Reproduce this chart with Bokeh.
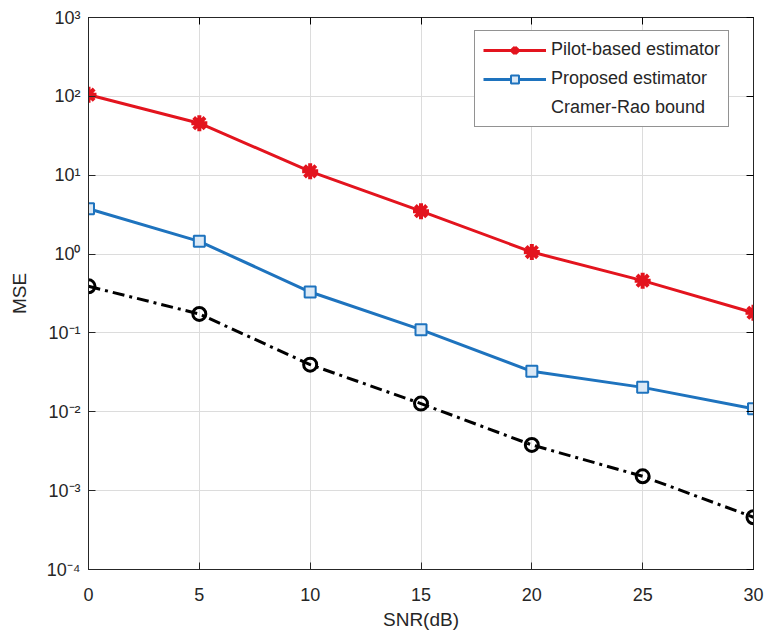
from bokeh.plotting import figure
from bokeh.models import (Range1d, FixedTicker, CustomJSTickFormatter, LinearAxis, LogAxis,
                          Legend, LegendItem)
from bokeh.embed import file_html
from bokeh.resources import INLINE

snr = [0, 5, 10, 15, 20, 25, 30]
pilot = [105, 45.7, 11.2, 3.5, 1.06, 0.46, 0.18]
proposed = [3.76, 1.45, 0.33, 0.11, 0.0326, 0.0204, 0.0109]
crb = [0.39, 0.174, 0.0396, 0.0127, 0.0038, 0.00152, 0.00046]
x_ticks = [0, 5, 10, 15, 20, 25, 30]
y_ticks = [1e-4, 1e-3, 1e-2, 1e-1, 1e0, 1e1, 1e2, 1e3]

FONT = "Liberation Sans"
RED = "#E3141E"
BLUE = "#1E73BE"

p = figure(width=764, height=640, y_axis_type="log", output_backend="svg",
           toolbar_location=None, x_range=Range1d(0, 30), y_range=Range1d(1e-4, 1e3),
           min_border_left=88, min_border_right=11, min_border_top=17, min_border_bottom=71)
p.background_fill_color = "white"
p.border_fill_color = "white"
p.outline_line_color = "#262626"
p.outline_line_width = 1

sup_js = """
const sup = {'-':'\u207b','0':'\u2070','1':'\u00b9','2':'\u00b2','3':'\u00b3','4':'\u2074',
             '5':'\u2075','6':'\u2076','7':'\u2077','8':'\u2078','9':'\u2079'};
const e = Math.round(Math.log10(tick));
return '10' + String(e).split('').map(c => sup[c]).join('');
"""

xa = p.xaxis[0]
xa.ticker = FixedTicker(ticks=x_ticks)
ya = p.yaxis[0]
ya.ticker = FixedTicker(ticks=y_ticks)
ya.formatter = CustomJSTickFormatter(code=sup_js)

for ax in (xa, ya):
    ax.axis_line_color = "#262626"
    ax.major_tick_in = 7
    ax.major_tick_out = 0
    ax.minor_tick_in = 0
    ax.minor_tick_out = 0
    ax.major_tick_line_color = "#262626"
    ax.major_label_text_font = FONT
    ax.major_label_text_font_size = "18px"
    ax.major_label_text_color = "#262626"
    ax.axis_label_text_font = FONT
    ax.axis_label_text_font_size = "19px"
    ax.axis_label_text_font_style = "normal"
    ax.axis_label_text_color = "#262626"
xa.axis_label = "SNR(dB)"
ya.axis_label = "MSE"
xa.major_label_standoff = 18
xa.axis_label_standoff = 5
ya.major_label_standoff = 8
ya.axis_label_standoff = 14

empty = CustomJSTickFormatter(code="return '';")
top = LinearAxis(ticker=FixedTicker(ticks=x_ticks), formatter=empty)
right = LogAxis(ticker=FixedTicker(ticks=y_ticks), formatter=empty)
for ax in (top, right):
    ax.axis_line_color = "#262626"
    ax.major_tick_in = 7
    ax.major_tick_out = 0
    ax.minor_tick_in = 0
    ax.minor_tick_out = 0
    ax.major_label_standoff = 0
    ax.major_label_text_font_size = "1px"
p.add_layout(top, "above")
p.add_layout(right, "right")

p.xgrid.ticker = FixedTicker(ticks=x_ticks)
p.ygrid.ticker = FixedTicker(ticks=y_ticks)
p.grid.grid_line_color = "#dcdcdc"
p.grid.grid_line_width = 1

r1 = p.line(snr, pilot, line_color=RED, line_width=3)
m1 = p.scatter(snr, pilot, marker="asterisk", size=16, line_color=RED, line_width=4)
r2 = p.line(snr, proposed, line_color=BLUE, line_width=3)
m2 = p.scatter(snr, proposed, marker="square", size=11, line_color=BLUE, line_width=2,
               fill_color="#dbe9f6")
r3 = p.line(snr, crb, line_color="black", line_width=3, line_dash="12 5 3 5")
m3 = p.scatter(snr, crb, marker="circle", size=13, line_color="black", line_width=3,
               fill_color=None)
dummy = p.line([0, 0], [1, 1], line_alpha=0)

legend = Legend(items=[
    LegendItem(label="Pilot-based estimator", renderers=[r1, m1]),
    LegendItem(label="Proposed estimator", renderers=[r2, m2]),
    LegendItem(label="Cramer-Rao bound", renderers=[dummy]),
], location=(386, 442))
legend.border_line_color = "#262626"
legend.border_line_width = 1
legend.background_fill_color = "white"
legend.background_fill_alpha = 1
legend.label_text_font = FONT
legend.label_text_font_size = "18px"
legend.label_text_color = "#262626"
legend.glyph_width = 63
legend.glyph_height = 20
legend.label_height = 20
legend.spacing = 8
legend.padding = 8
legend.margin = 0
legend.label_standoff = 5
p.add_layout(legend)

open("out.html", "w").write(file_html(p, INLINE))
